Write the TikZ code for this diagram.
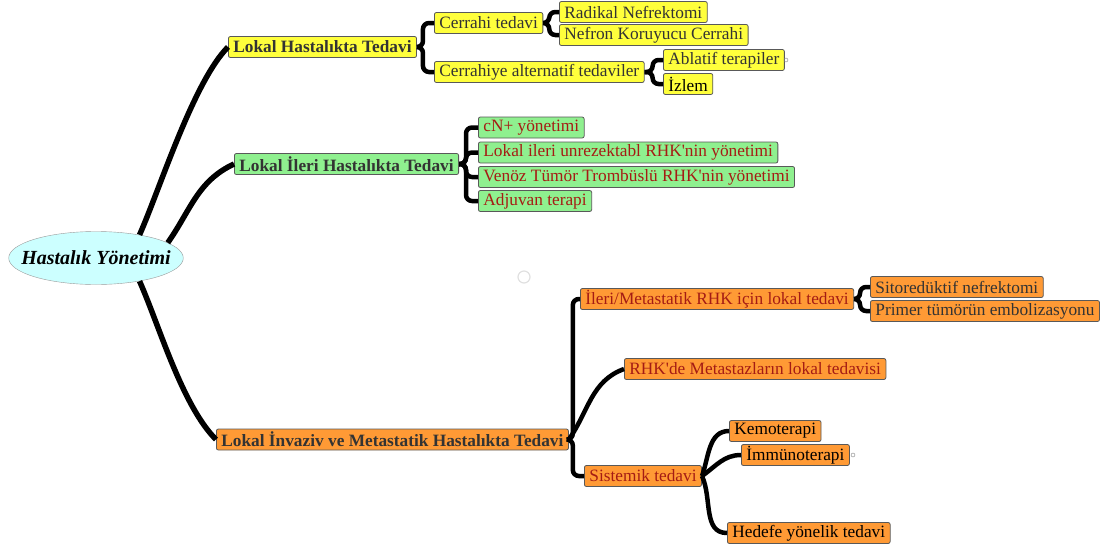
\documentclass[tikz,border=0pt]{standalone}
\usepackage{fontspec}
\setmainfont{Liberation Serif}
\newfontfamily\duz{Liberation Serif}
\newcommand\kesme{{\duz'}}
\usetikzlibrary{shapes.geometric}
\definecolor{sari}{HTML}{FFFF3C}
\definecolor{yesil}{HTML}{8FF08F}
\definecolor{turuncu}{HTML}{FF9A35}
\definecolor{mavi}{HTML}{CCFFFF}
\definecolor{koyu}{HTML}{333333}
\definecolor{kirmizi}{HTML}{A51C14}

\begin{document}
\begin{tikzpicture}[x=1pt,y=1pt,
  kok/.style={ellipse,draw=black!40,fill=mavi,minimum height=53pt,inner xsep=-13pt,inner ysep=0pt,font=\fontsize{20}{24}\selectfont\bfseries\itshape},
  kutu/.style={draw=black!65,line width=.8pt,rounded corners=2pt,inner xsep=5pt,inner ysep=0pt,minimum height=21pt,anchor=west,text=koyu,font=\fontsize{17.3}{20}\selectfont},
  ana/.style={kutu,font=\fontsize{17.3}{20}\selectfont\bfseries},
  sarikutu/.style={kutu,fill=sari},
  yesilkutu/.style={kutu,fill=yesil,text=kirmizi},
  turuncukutu/.style={kutu,fill=turuncu},
  dal/.style={line width=5.5pt},
  kol/.style={line width=4.5pt,rounded corners=6pt},
  nokta/.style={circle,draw=black!50,inner sep=0pt,minimum size=4pt}]
\useasboundingbox (0,0) rectangle (1109,-549);

\node[kok] (kok) at (96,-258) {Hastalık Yönetimi};

\node[ana,fill=sari] (lht) at (228,-47) {Lokal Hastalıkta Tedavi};
\node[sarikutu] (ct) at (434,-23) {Cerrahi tedavi};
\node[sarikutu] (rn) at (559,-12) {Radikal Nefrektomi};
\node[sarikutu] (nkc) at (559,-35) {Nefron Koruyucu Cerrahi};
\node[sarikutu] (cat) at (434,-72) {Cerrahiye alternatif tedaviler};
\node[sarikutu] (abl) at (663,-60) {Ablatif terapiler};
\node[sarikutu,text=black] (izl) at (663,-84) {İzlem};

\node[ana,fill=yesil] (liht) at (234,-164) {Lokal İleri Hastalıkta Tedavi};
\node[yesilkutu] (cn) at (478,-127.5) {cN+ yönetimi};
\node[yesilkutu] (lur) at (478,-152.5) {Lokal ileri unrezektabl RHK\kesme nin yönetimi};
\node[yesilkutu] (vtt) at (478,-177) {Venöz Tümör Trombüslü RHK\kesme nin yönetimi};
\node[yesilkutu] (adj) at (478,-201) {Adjuvan terapi};

\node[ana,fill=turuncu] (lim) at (216,-439.5) {Lokal İnvaziv ve Metastatik Hastalıkta Tedavi};
\node[turuncukutu,text=kirmizi] (imr) at (580,-299) {İleri/Metastatik RHK için lokal tedavi};
\node[turuncukutu] (sn) at (870,-287) {Sitoredüktif nefrektomi};
\node[turuncukutu] (pte) at (870,-311) {Primer tümörün embolizasyonu};
\node[turuncukutu,text=kirmizi] (mlt) at (624,-369) {RHK\kesme de Metastazların lokal tedavisi};
\node[turuncukutu,text=kirmizi] (sis) at (584,-476) {Sistemik tedavi};
\node[turuncukutu,text=black] (kem) at (729,-431) {Kemoterapi};
\node[turuncukutu,text=black] (imm) at (741,-455) {İmmünoterapi};
\node[turuncukutu,text=black] (hyt) at (727,-533) {Hedefe yönelik tedavi};

\node[nokta] (n1) at (786,-60) {};
\node[nokta] (n2) at (853,-455) {};
\node[circle,draw=black!12,line width=1.2pt,minimum size=12pt,inner sep=0pt] (n3) at (524,-277) {};

\draw[dal] (kok.28) to[out=66,in=225,looseness=.6] (lht.west);
\draw[dal] (kok.12) to[out=55,in=205] (liht.west);
\draw[dal] (kok.-28) to[out=-66,in=135,looseness=.7] (lim.west);

\foreach \c in {ct,cat} \draw[kol] (lht.east) -- ++(6,0) |- (\c.west);
\foreach \c in {rn,nkc} \draw[kol] (ct.east) -- ++(6,0) |- (\c.west);
\foreach \c in {abl,izl} \draw[kol] (cat.east) -- ++(8,0) |- (\c.west);
\foreach \c in {cn,lur,vtt,adj} \draw[kol] (liht.east) -- ++(7,0) |- (\c.west);
\foreach \c in {sn,pte} \draw[kol] (imr.east) -- ++(6,0) |- (\c.west);

\draw[kol] (lim.east) -- ++(4,0) |- (imr.west);
\draw[kol] (lim.east) -- ++(4,0) |- (sis.west);
\draw[kol] (lim.east) to[out=55,in=200] (mlt.west);
\draw[kol] (sis.east) to[out=70,in=180] (kem.west);
\draw[kol] (sis.east) to[out=35,in=180] (imm.west);
\draw[kol] (sis.east) to[out=-65,in=180] (hyt.west);
\end{tikzpicture}
\end{document}
